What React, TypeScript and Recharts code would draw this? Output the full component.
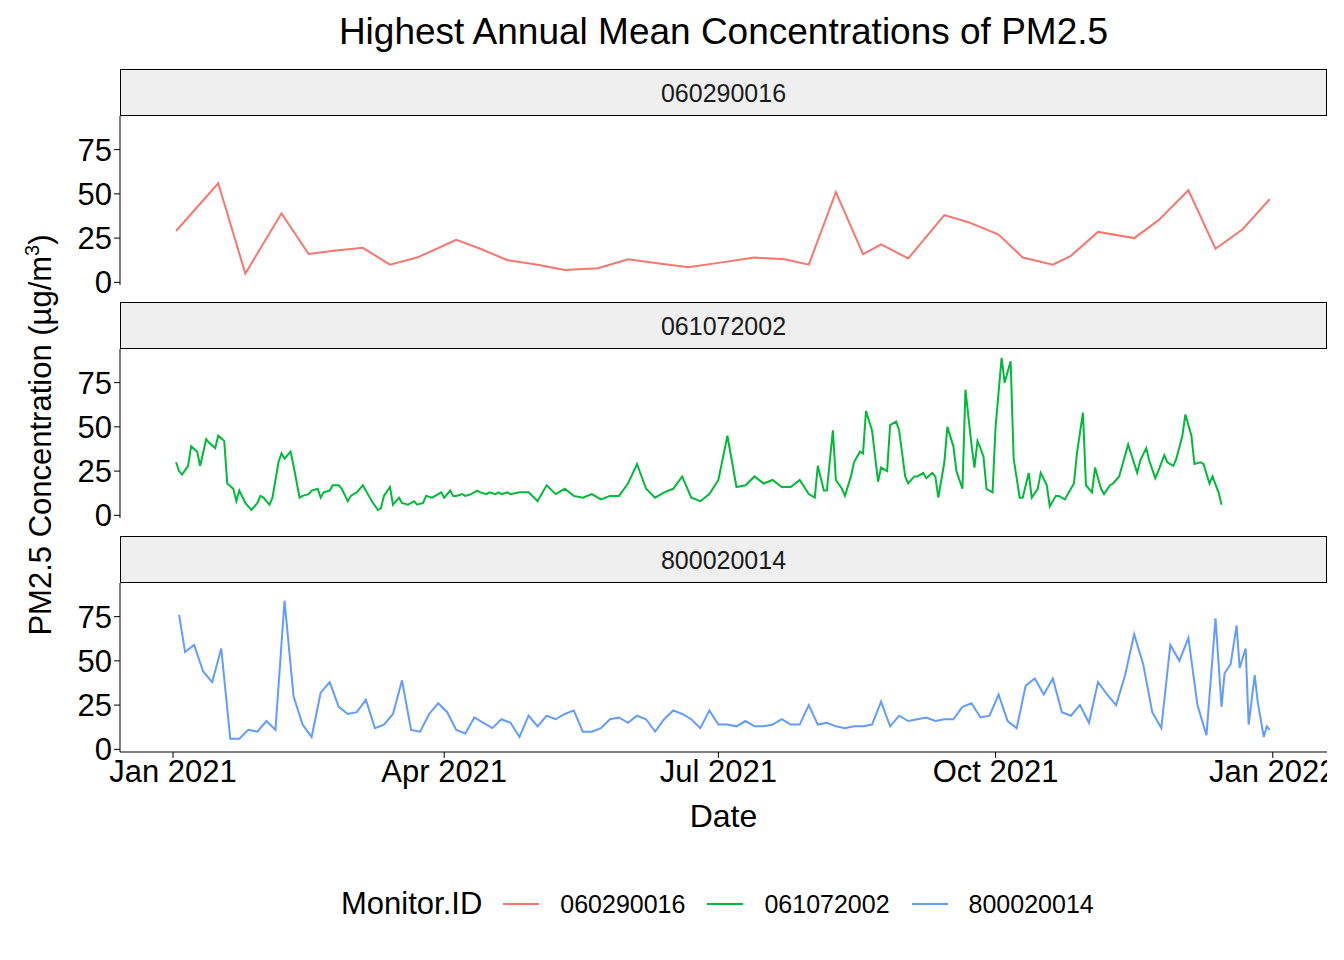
import { LineChart, Line, XAxis, YAxis } from "recharts";

// x = day of year (0 = 1 Jan 2021), y = PM2.5 µg/m³
const monitorIds = ["060290016", "061072002", "800020014"];
const colors = ["#F8766D", "#00BA38", "#619CFF"];

const redDays = [1, 15, 24, 36, 45, 54, 63, 72, 81, 94, 102, 111, 121, 130, 141, 151, 162, 171, 181, 193, 203, 211, 220, 229, 235, 244, 256, 264, 274, 282, 292, 298, 307, 319, 327, 337, 346, 355, 364];
const redVals = [29, 56, 5, 39, 16, 18, 19.5, 10, 14, 24, 19, 12.5, 10, 7, 8, 13, 10.5, 8.5, 11, 14, 13, 10, 51, 16, 21.5, 13.5, 38, 34, 27, 14, 10, 15, 28.5, 25, 35, 52, 19, 30, 47];

const greenDays = [1, 2, 3, 5, 6, 8, 9, 11, 12, 14, 15, 17, 18, 20, 21, 22, 24, 26, 28, 29, 30, 32, 33, 35, 36, 37, 39, 40, 42, 43, 45, 46, 48, 49, 50, 52, 53, 55, 56, 58, 59, 61, 63, 65, 66, 68, 69, 70, 72, 73, 75, 76, 78, 80, 81, 83, 84, 86, 87, 89, 90, 92, 93, 94, 96, 97, 99, 101, 102, 104, 105, 107, 108, 109, 111, 112, 115, 118, 121, 124, 127, 130, 133, 136, 139, 142, 145, 148, 151, 154, 157, 160, 163, 166, 169, 172, 175, 178, 181, 184, 187, 190, 193, 196, 199, 202, 205, 208, 211, 213, 214, 216, 217, 219, 220, 222, 223, 225, 226, 228, 229, 230, 232, 234, 235, 237, 238, 240, 241, 243, 244, 246, 247, 249, 250, 252, 253, 254, 256, 257, 259, 260, 262, 263, 265, 266, 267, 268, 269, 270, 272, 273, 275, 276, 278, 279, 281, 282, 284, 285, 287, 288, 290, 291, 293, 294, 296, 297, 299, 300, 302, 303, 305, 306, 308, 309, 311, 312, 314, 317, 320, 321, 323, 324, 326, 327, 329, 330, 332, 333, 335, 336, 338, 339, 341, 342, 344, 345, 347, 348];
const greenVals = [30, 25, 23, 28, 39, 36, 28, 43, 41, 38, 45, 42, 18, 15, 8, 14, 7, 3, 7, 11, 10, 6, 10, 30, 35, 32, 36, 28, 10, 11, 12, 14, 15, 10, 13, 14, 17, 17, 15, 8, 11, 13, 17, 11, 8, 3, 4, 11, 16, 6, 10, 7, 6, 8, 6, 7, 11, 10, 11, 13, 10, 14, 11, 11, 12, 11, 12, 14, 13, 12, 13, 12, 13, 12, 13, 12, 13, 13, 8, 17, 12, 15, 11, 10, 12, 9, 11, 11, 18, 29, 15, 10, 13, 15, 22, 10, 8, 12, 20, 45, 16, 17, 22, 18, 20, 16, 16, 20, 12, 10, 28, 14, 14, 48, 20, 15, 11, 22, 30, 36, 35, 59, 48, 19, 27, 25, 51, 53, 48, 22, 18, 22, 22, 24, 21, 24, 22, 10, 30, 50, 39, 25, 15, 71, 40, 27, 42, 38, 33, 15, 13, 50, 89, 75, 87, 32, 10, 10, 24, 10, 15, 24, 17, 5, 11, 11, 9, 12, 18, 35, 58, 17, 13, 27, 15, 12, 17, 18, 22, 40, 24, 31, 38, 31, 21, 25, 34, 30, 28, 32, 45, 57, 45, 29, 30, 29, 18, 22, 13, 6];

const blueDays = [2, 4, 7, 10, 13, 16, 19, 22, 25, 28, 31, 34, 37, 40, 43, 46, 49, 52, 55, 58, 61, 64, 67, 70, 73, 76, 79, 82, 85, 88, 91, 94, 97, 100, 103, 106, 109, 112, 115, 118, 121, 124, 127, 130, 133, 136, 139, 142, 145, 148, 151, 154, 157, 160, 163, 166, 169, 172, 175, 178, 181, 184, 187, 190, 193, 196, 199, 202, 205, 208, 211, 214, 217, 220, 223, 226, 229, 232, 235, 238, 241, 244, 247, 250, 253, 256, 259, 262, 265, 268, 271, 274, 277, 280, 283, 286, 289, 292, 295, 298, 301, 304, 307, 310, 313, 316, 319, 322, 325, 328, 331, 334, 337, 340, 343, 346, 348, 349, 351, 353, 354, 356, 357, 359, 360, 362, 363, 364];
const blueVals = [76, 55, 59, 44, 38, 57, 6, 6, 11, 10, 16, 11, 84, 30, 14, 7, 32, 38, 24, 20, 21, 28, 12, 14, 20, 39, 11, 10, 20, 26, 21, 11, 9, 18, 15, 12, 17, 15, 7, 19, 13, 19, 17, 20, 22, 10, 10, 12, 17, 18, 15, 19, 17, 10, 17, 22, 20, 17, 12, 22, 14, 14, 13, 16, 13, 13, 14, 17, 14, 14, 25, 14, 15, 13, 12, 13, 13, 14, 27, 13, 19, 16, 17, 18, 16, 17, 17, 24, 26, 18, 19, 31, 16, 12, 36, 40, 31, 40, 21, 19, 25, 15, 38, 31, 25, 42, 65, 48, 21, 12, 59, 50, 63, 25, 8, 74, 24, 43, 48, 70, 46, 57, 14, 42, 27, 7, 13, 11];

const xTicks = [0, 90, 181, 273, 365];
const xTickLabels = ["Jan 2021", "Apr 2021", "Jul 2021", "Oct 2021", "Jan 2022"];
const yTicks = [0, 25, 50, 75];

const series = [
  redDays.map((d, i) => ({ day: d, value: redVals[i] })),
  greenDays.map((d, i) => ({ day: d, value: greenVals[i] })),
  blueDays.map((d, i) => ({ day: d, value: blueVals[i] })),
];

const FONT = "'Liberation Sans', Arial, sans-serif";
const tickStyle = { fill: "#000", fontSize: 31, fontFamily: FONT };
const panelTops = [69, 302, 536];

export default function App() {
  return (
    <div style={{ position: "absolute", left: 0, top: 0, width: 1344, height: 960, background: "#fff", fontFamily: FONT }}>
      <div style={{ position: "absolute", top: 10, left: 120, width: 1207, textAlign: "center", fontSize: 37, lineHeight: "44px" }}>
        Highest Annual Mean Concentrations of PM2.5
      </div>
      <div style={{ position: "absolute", left: 40, top: 435, transform: "translate(-50%, -50%) rotate(-90deg)", whiteSpace: "nowrap", fontSize: 31 }}>
        PM2.5 Concentration (µg/m<sup style={{ fontSize: 20 }}>3</sup>)
      </div>
      {series.map((data, k) => {
        const top = panelTops[k];
        const last = k === 2;
        return (
          <div key={k}>
            <div style={{ position: "absolute", left: 120, top, width: 1205, height: 45, background: "#EFEFEF", border: "1px solid #000", textAlign: "center", lineHeight: "46px", fontSize: 25, color: "#1a1a1a" }}>
              {monitorIds[k]}
            </div>
            <div style={{ position: "absolute", left: 0, top: top + 47 }}>
              <LineChart width={1327} height={last ? 169 + 50 : 185} data={data} margin={{ top: 0, right: 0, bottom: last ? 0 : 16, left: 0 }} style={{ overflow: "visible" }}>
                <XAxis
                  dataKey="day"
                  type="number"
                  domain={[-17.6, 383]}
                  ticks={xTicks}
                  hide={!last}
                  height={50}
                  tickFormatter={(v) => xTickLabels[xTicks.indexOf(v)]}
                  tick={tickStyle}
                  stroke="#000"
                  tickSize={6}
                  interval={0}
                />
                <YAxis
                  type="number"
                  domain={[-1.5, 94]}
                  ticks={yTicks}
                  width={120}
                  tick={tickStyle}
                  stroke="#000"
                  tickSize={6}
                  interval={0}
                  allowDataOverflow
                />
                <Line type="linear" dataKey="value" stroke={colors[k]} strokeWidth={2} dot={false} isAnimationActive={false} />
              </LineChart>
            </div>
          </div>
        );
      })}
      <div style={{ position: "absolute", top: 798, left: 120, width: 1207, textAlign: "center", fontSize: 32 }}>Date</div>
      <div style={{ position: "absolute", top: 886, left: 341, display: "flex", alignItems: "center" }}>
        <span style={{ fontSize: 31, marginRight: 21 }}>Monitor.ID</span>
        {monitorIds.map((id, i) => (
          <span key={id} style={{ display: "flex", alignItems: "center", marginRight: 22 }}>
            <span style={{ display: "inline-block", width: 36, height: 2, background: colors[i], marginRight: 21 }} />
            <span style={{ fontSize: 25 }}>{id}</span>
          </span>
        ))}
      </div>
    </div>
  );
}
